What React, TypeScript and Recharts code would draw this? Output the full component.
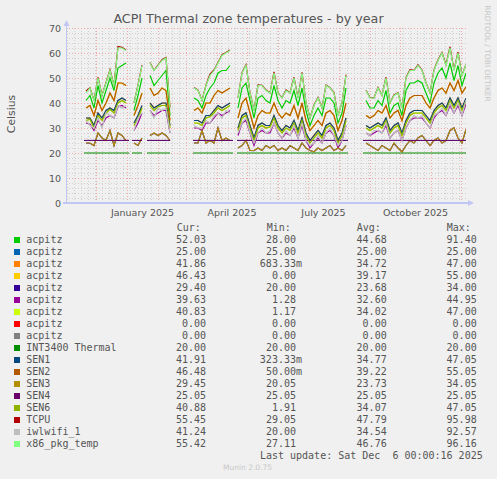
import { LineChart, Line, XAxis, YAxis, CartesianGrid } from 'recharts';

const _ = null;

// day index 0 = 1 Nov 2024, sampled every 4 days up to 6 Dec 2025
const days = Array.from({ length: 101 }, (_v, i) => i * 4);

const x86 = [_, _, _, _, _,
  44, 46, 41, 50, 43, 48, 53, 47, 62, 62, 61, _,
  40, 47, 55, _,
  56, 53, 55, 57, 58, 38, _, _, _, _, _,
  46, 45, 41, 47, 51, 53, 56, 59, 60, 61, _,
  42, 52, 55, 44, 37, 47, 47, 45, 44, 52, 44, 42, 45, 44, 50, 42, 52, 40, 34, 39, 42, 38, 47, 46, 44, 35, 40, 51,
  _, _, _, _,
  45, 42, 42, 46, 43, 50, 40, 43, 44, 38, 50, 53, 53, 55, 53, 48, 44, 53, 57, 60, 55, 62, 53, 60, 51, 55.42];

const tcpu = [_, _, _, _, _,
  44.8, 46.1, 41.1, 50.3, 43.1, 48.2, 53.3, 47.1, 62.6, 62.3, 61.2, _,
  40.1, 47.2, 55.2, _,
  56.2, 53.1, 55.2, 57.3, 58.2, 38.2, _, _, _, _, _,
  46.2, 45.1, 41.1, 47.2, 51.6, 53.2, 56.2, 59.3, 60.2, 61.2, _,
  42.1, 52.2, 55.3, 44.1, 37.1, 47.2, 47.1, 45.2, 44.1, 52.5, 44.1, 42.1, 45.2, 44.1, 50.3, 42.1, 52.3, 40.1, 34.1, 39.2, 42.2, 38.1, 47.2, 46.1, 44.2, 35.1, 40.1, 51.3,
  _, _, _, _,
  45.1, 42.2, 42.1, 46.2, 43.1, 50.3, 40.1, 43.2, 44.1, 38.1, 50.2, 53.3, 53.1, 55.3, 53.2, 48.1, 44.1, 53.2, 57.3, 60.2, 55.3, 62.5, 53.2, 60.4, 51.2, 55.45];

const acpitzGreen = [_, _, _, _, _,
  41, 43, 38, 47, 40, 45, 50, 45, 54, 55, 56, _,
  37, 43, 50, _,
  51, 47, 49, 51, 53, 35, _, _, _, _, _,
  42, 41, 38, 43, 46, 48, 52, 53, 53, 55, _,
  38, 46, 48, 41, 34, 42, 43, 41, 40, 47, 41, 38, 41, 40, 45, 39, 46, 37, 31, 35, 38, 35, 42, 42, 40, 32, 36, 46,
  _, _, _, _,
  41, 38, 38, 41, 39, 45, 36, 39, 40, 35, 45, 48, 48, 49, 48, 44, 40, 48, 52, 54, 50, 56, 49, 55, 47, 52.03];

const sen2 = [_, _, _, _, _,
  38, 39, 35, 41, 37, 40, 44, 41, 48, 48, 47, _,
  35, 39, 44, _,
  46, 43, 44, 46, 45, 33, _, _, _, _, _,
  37, 38, 36, 40, 40, 43, 45, 44, 45, 46, _,
  34, 40, 42, 36, 30, 35, 37, 36, 36, 40, 36, 34, 36, 35, 39, 34, 40, 33, 29, 31, 33, 31, 36, 37, 35, 29, 33, 40,
  _, _, _, _,
  35, 34, 35, 37, 36, 39, 34, 36, 37, 33, 39, 42, 43, 43, 43, 40, 38, 42, 45, 46, 44, 48, 45, 49, 44, 46.48];

const acpitzYellow = [_, _, _, _, _,
  38.1, 38.9, 35, 41, 37.1, 40, 43.9, 41, 48, 47.9, 47, _,
  35, 39.1, 44, _,
  46, 43, 43.9, 46, 45, 33.1, _, _, _, _, _,
  37, 38, 36.1, 40, 39.9, 43, 45, 44.1, 45, 46, _,
  34, 40, 41.9, 36, 30.1, 35, 37, 36, 35.9, 40, 36, 34.1, 36, 35, 39, 33.9, 40, 33, 29.1, 31, 33, 31, 36, 36.9, 35, 29, 33.1, 40,
  _, _, _, _,
  35, 34.1, 35, 37, 35.9, 39, 34, 36, 37.1, 33, 39, 42, 42.9, 43, 43, 40, 38.1, 42, 45, 46, 43.9, 48, 45, 49, 44, 46.43];

const sen1 = [_, _, _, _, _,
  34, 34, 31, 36, 34, 37, 38, 37, 41, 42, 41, _,
  32, 35, 39, _,
  40, 38, 39, 40, 40, 31, _, _, _, _, _,
  33, 33, 32, 35, 35, 37, 39, 38, 39, 40, _,
  30, 35, 36, 31, 26, 31, 32, 31, 31, 35, 31, 29, 31, 30, 33, 29, 34, 28, 25, 27, 29, 27, 31, 32, 30, 25, 28, 34,
  _, _, _, _,
  31, 30, 31, 32, 31, 34, 29, 31, 32, 28, 33, 36, 37, 37, 37, 35, 33, 37, 39, 40, 38, 42, 39, 42, 38, 41.91];

const acpitzOrange = [_, _, _, _, _,
  33.9, 34, 31.1, 36, 34, 36.9, 38, 37, 41, 41.9, 41, _,
  32, 35, 38.9, _,
  40, 38.1, 39, 40, 39.9, 31, _, _, _, _, _,
  33, 33.1, 32, 35, 35, 37, 38.9, 38, 39, 40, _,
  30, 35, 36.1, 31, 26, 31, 32, 30.9, 31, 35, 31, 29, 31.1, 30, 33, 29, 34, 28, 25, 27.1, 29, 27, 31, 32, 30, 25.1, 28, 34,
  _, _, _, _,
  31, 30, 31.1, 32, 31, 34, 29, 30.9, 32, 28, 33, 36, 37, 37.1, 37, 35, 33, 37, 38.9, 40, 38, 42, 39, 42, 38, 41.86];

const sen6 = [_, _, _, _, _,
  33, 33.5, 30, 35, 33, 36, 37.5, 36, 40, 41, 40, _,
  31, 34, 38, _,
  39, 37, 38.5, 39, 39, 30, _, _, _, _, _,
  32, 32, 31, 34, 34.5, 36, 38, 37, 38, 39, _,
  29, 34, 35, 30, 25, 30, 31, 30, 30.5, 34, 30, 28, 30, 29, 32, 28, 33, 27, 24, 26, 28, 26, 30, 31, 29, 24, 27, 33,
  _, _, _, _,
  30, 29, 30, 31, 30, 33, 28, 30, 31, 27, 32, 35, 36, 36, 36, 34, 32, 36, 38, 39, 37, 41, 38, 41, 37, 40.88];

const acpitzLime = [_, _, _, _, _,
  33, 33.4, 30.1, 35, 33, 35.9, 37.5, 36, 40, 40.9, 40, _,
  31, 34.1, 38, _,
  39, 37, 38.4, 39, 39.1, 30, _, _, _, _, _,
  32, 31.9, 31, 34, 34.5, 36.1, 38, 37, 37.9, 39, _,
  29, 34, 35, 30.1, 25, 30, 31, 30, 30.4, 34, 30, 28.1, 30, 29, 32, 28, 32.9, 27, 24, 26, 28, 26.1, 30, 31, 29, 24, 27, 32.9,
  _, _, _, _,
  30, 29, 30, 31, 29.9, 33, 28, 30, 31, 27, 32, 35, 36, 35.9, 36, 34, 32, 36, 38, 39, 37, 41, 38, 41, 37, 40.83];

const iwlwifi = [_, _, _, _, _,
  33, 31, 30, 34, 30, 36, 35, 34, 39, 38, 39, _,
  29, 34, 36, _,
  37, 34, 38, 37, 38, 28, _, _, _, _, _,
  31, 30, 30, 33, 32, 35, 36, 34, 37, 36, _,
  28, 32, 34, 28, 24, 28, 30, 28, 29, 32, 28, 26, 29, 27, 31, 26, 32, 25, 23, 24, 27, 24, 28, 30, 27, 23, 25, 31,
  _, _, _, _,
  28, 27, 29, 29, 28, 32, 26, 28, 29, 25, 30, 33, 35, 34, 35, 32, 30, 35, 36, 38, 35, 40, 36, 40, 35, 41.24];

const acpitzMagenta = [_, _, _, _, _,
  32, 31.5, 29, 33, 31, 34, 35, 34, 38.5, 39, 38, _,
  29, 32, 36, _,
  37, 35, 36, 37, 37, 28, _, _, _, _, _,
  30, 30, 29, 32, 32, 34, 36, 35, 36, 37, _,
  27, 32, 33, 28, 23, 28, 29, 28, 28, 32, 28, 26, 28, 27, 30, 26, 31, 25, 22, 24, 26, 24, 28, 29, 27, 22, 25, 31,
  _, _, _, _,
  28, 27, 28, 29, 28, 31, 26, 28, 29, 25, 30, 33, 34, 34, 34, 32, 30, 34, 36, 37, 35, 39, 36, 39, 35, 39.63];

const sen3 = [_, _, _, _, _,
  24, 24, 23, 28, 26, 25, 29, 23, 28, 27, 25, _,
  24, 23, 26, _,
  27, 28, 27, 28, 27, 25, _, _, _, _, _,
  24, 24, 29, 24, 25, 24, 30, 25, 26, 25, _,
  22, 23, 25, 21, 21, 22, 21, 23, 22, 23, 21, 22, 21, 23, 22, 21, 24, 22, 21, 20.5, 22, 21, 22, 23, 21, 22, 21, 23,
  _, _, _, _,
  24, 23, 22, 21, 23, 22, 21, 24, 22, 20.5, 23, 25, 24, 26, 27, 25, 23, 25, 26, 24, 25, 29, 30, 26, 24, 29.45];

const acpitzIndigo = [_, _, _, _, _,
  24, 23.9, 23, 28, 26, 25.1, 29, 23, 28, 27, 24.9, _,
  24, 23, 26, _,
  27, 27.9, 27, 28, 27, 25, _, _, _, _, _,
  24, 24, 28.9, 24, 25, 24, 30, 25, 25.9, 25, _,
  22, 23, 25, 21, 20.9, 22, 21, 23, 22, 23, 21, 22, 21, 22.9, 22, 21, 24, 22, 21, 20.5, 22, 21, 22, 23, 21, 22, 21, 23,
  _, _, _, _,
  24, 23, 22, 21, 23, 22, 21, 23.9, 22, 20.5, 23, 25, 24, 26, 27, 25, 23, 25, 26, 24, 25, 29, 30, 26, 24, 29.4];

// flat series only change at the data gaps
const flatDays = [18, 63, 64, 66, 76, 78, 81, 104, 110, 127, 167, 169, 171, 282, 290, 297, 400];
const acpitzBlue = [25, 25, _, 25, 25, _, 25, 25, _, 25, 25, _, 25, 25, _, 25, 25];
const acpitzRed = [0, 0, _, 0, 0, _, 0, 0, _, 0, 0, _, 0, 0, _, 0, 0];
const acpitzGray = [0, 0, _, 0, 0, _, 0, 0, _, 0, 0, _, 0, 0, _, 0, 0];
const int3400 = [20, 20, _, 20, 20, _, 20, 20, _, 20, 20, _, 20, 20, _, 20, 20];
const sen4 = [25.05, 25.05, _, 25.05, 25.05, _, 25.05, 25.05, _, 25.05, 25.05, _, 25.05, 25.05, _, 25.05, 25.05];

const yTicks = [0, 10, 20, 30, 40, 50, 60, 70];
const yMinor = [2, 4, 6, 8, 12, 14, 16, 18, 22, 24, 26, 28, 32, 34, 36, 38, 42, 44, 46, 48, 52, 54, 56, 58, 62, 64, 66, 68];
const monthStarts = [30, 61, 92, 120, 151, 181, 212, 242, 273, 304, 334, 365, 395];
const weekLines = Array.from({ length: 58 }, (_v, i) => 1 + i * 7).filter((d) => d < 400);
const labelDays = [76.5, 166, 257.5, 349.5];
const monthLabels = ['January 2025', 'April 2025', 'July 2025', 'October 2025'];

const legendNames = ['acpitz', 'acpitz', 'acpitz', 'acpitz', 'acpitz', 'acpitz', 'acpitz', 'acpitz', 'acpitz',
  'INT3400 Thermal', 'SEN1', 'SEN2', 'SEN3', 'SEN4', 'SEN6', 'TCPU', 'iwlwifi_1', 'x86_pkg_temp'];
const legendColors = ['#00CC00', '#0066B3', '#FF8000', '#FFCC00', '#330099', '#990099', '#CCFF00', '#FF0000', '#808080',
  '#008F00', '#00487D', '#B35A00', '#B38F00', '#6B006B', '#8FB300', '#B30000', '#BEBEBE', '#80FF80'];
const curVals = ['52.03', '25.00', '41.86', '46.43', '29.40', '39.63', '40.83', '0.00', '0.00', '20.00', '41.91', '46.48', '29.45', '25.05', '40.88', '55.45', '41.24', '55.42'];
const minVals = ['28.00', '25.00', '683.33m', '0.00', '20.00', '1.28', '1.17', '0.00', '0.00', '20.00', '323.33m', '50.00m', '20.05', '25.05', '1.91', '29.05', '20.00', '27.11'];
const avgVals = ['44.68', '25.00', '34.72', '39.17', '23.68', '32.60', '34.02', '0.00', '0.00', '20.00', '34.77', '39.22', '23.73', '25.05', '34.07', '47.79', '34.54', '46.76'];
const maxVals = ['91.40', '25.00', '47.00', '55.00', '34.00', '44.95', '47.00', '0.00', '0.00', '20.00', '47.05', '55.05', '34.05', '25.05', '47.05', '95.98', '92.57', '96.16'];

// draw order = munin order (last on top)
const seriesList: { key: string; values: (number | null)[]; flat?: boolean }[] = [
  { key: 'acpitzGreen', values: acpitzGreen },
  { key: 'acpitzBlue', values: acpitzBlue, flat: true },
  { key: 'acpitzOrange', values: acpitzOrange },
  { key: 'acpitzYellow', values: acpitzYellow },
  { key: 'acpitzIndigo', values: acpitzIndigo },
  { key: 'acpitzMagenta', values: acpitzMagenta },
  { key: 'acpitzLime', values: acpitzLime },
  { key: 'acpitzRed', values: acpitzRed, flat: true },
  { key: 'acpitzGray', values: acpitzGray, flat: true },
  { key: 'int3400', values: int3400, flat: true },
  { key: 'sen1', values: sen1 },
  { key: 'sen2', values: sen2 },
  { key: 'sen3', values: sen3 },
  { key: 'sen4', values: sen4, flat: true },
  { key: 'sen6', values: sen6 },
  { key: 'tcpu', values: tcpu },
  { key: 'iwlwifi', values: iwlwifi },
  { key: 'x86', values: x86 },
];

const rows = days.map((d, i) => {
  const r: Record<string, number | null> = { d };
  seriesList.filter((s) => !s.flat).forEach((s) => (r[s.key] = s.values[i]));
  return r;
});
const flatRows = flatDays.map((d, i) => {
  const r: Record<string, number | null> = { d };
  seriesList.filter((s) => s.flat).forEach((s) => (r[s.key] = s.values[i]));
  return r;
});

const TXT = '#555555';
const AXIS = '#c2c6f2';

const XTick = (props: any) => (
  <text x={props.x} y={216} textAnchor="middle" fontSize={9.5} fill={TXT} fontFamily="DejaVu Sans">
    {monthLabels[props.index]}
  </text>
);

const YTick = (props: any) => (
  <text x={61} y={props.y + 3.5} textAnchor="end" fontSize={9.5} fill={TXT} fontFamily="DejaVu Sans">
    {props.payload.value}
  </text>
);

const mono: React.CSSProperties = {
  position: 'absolute',
  fontFamily: '"DejaVu Sans Mono", monospace',
  fontSize: 10,
  lineHeight: '12px',
  color: TXT,
  whiteSpace: 'pre',
};

function Num(props: { text: string; right: number; top: number }) {
  const t = props.text.endsWith('m') ? props.text : props.text + ' ';
  return <div style={{ ...mono, top: props.top, right: 497 - props.right, textAlign: 'right' }}>{t}</div>;
}

export default function App() {
  return (
    <div style={{ position: 'fixed', left: 0, top: 0, width: 497, height: 479, background: '#f0f0f0', overflow: 'hidden' }}>
      <div style={{ position: 'absolute', left: 0, top: 0 }}>
        <LineChart width={497} height={225} data={rows} margin={{ top: 28, right: 31, left: 0, bottom: 0 }}>
          <CartesianGrid horizontalValues={yMinor} verticalValues={weekLines} stroke="#d0d0d0" strokeDasharray="1 2" shapeRendering="crispEdges" />
          <CartesianGrid horizontalValues={yTicks.slice(1)} verticalValues={monthStarts} stroke="#f0a8a8" strokeDasharray="1 2" shapeRendering="crispEdges" />
          <XAxis type="number" dataKey="d" domain={[0, 400]} ticks={labelDays} tick={<XTick />} axisLine={false} tickLine={false} height={22} allowDataOverflow interval={0} />
          <YAxis type="number" domain={[0, 70]} ticks={yTicks} width={66} tick={<YTick />} axisLine={false} tickLine={false} allowDataOverflow interval={0} />
          {seriesList.map((s, idx) => (
            <Line
              key={s.key}
              data={s.flat ? flatRows : undefined}
              dataKey={s.key}
              stroke={legendColors[idx]}
              strokeWidth={s.flat ? 1 : 1.2}
              dot={false}
              activeDot={false}
              isAnimationActive={false}
              type="linear"
            />
          ))}
        </LineChart>
      </div>

      <svg width={497} height={479} style={{ position: 'absolute', left: 0, top: 0, pointerEvents: 'none' }}>
        <line x1={66.5} y1={203.5} x2={66.5} y2={25} stroke={AXIS} />
        <polygon points="63.5,26 69.5,26 66.5,20" fill={AXIS} />
        <line x1={63} y1={203} x2={469} y2={203} stroke={AXIS} strokeWidth={2} />
        <polygon points="468,200 468,206 474,203" fill={AXIS} />
        <text x={248.5} y={22.5} textAnchor="middle" fontSize={12.7} fill={TXT} fontFamily="DejaVu Sans">
          ACPI Thermal zone temperatures - by year
        </text>
        <text transform="translate(14.5,114) rotate(-90)" textAnchor="middle" fontSize={10.8} fill={TXT} fontFamily="DejaVu Sans">
          Celsius
        </text>
        <text transform="translate(484.8,53.5) rotate(90)" textAnchor="middle" fontSize={7.5} fill="#c6c6c6" fontFamily="DejaVu Sans">
          RRDTOOL / TOBI OETIKER
        </text>
      </svg>

      <div style={{ ...mono, top: 222, left: 176.7 }}>Cur:</div>
      <div style={{ ...mono, top: 222, left: 266.7 }}>Min:</div>
      <div style={{ ...mono, top: 222, left: 356.7 }}>Avg:</div>
      <div style={{ ...mono, top: 222, left: 446.7 }}>Max:</div>
      {legendNames.map((name, i) => {
        const cy = 240 + 12 * i;
        return (
          <div key={i}>
            <div style={{ position: 'absolute', left: 14, top: cy - 3, width: 6, height: 6, background: legendColors[i] }} />
            <div style={{ ...mono, top: cy - 6, left: 26.3 }}>{name}</div>
            <Num text={curVals[i]} right={212} top={cy - 6} />
            <Num text={minVals[i]} right={302} top={cy - 6} />
            <Num text={avgVals[i]} right={392.7} top={cy - 6} />
            <Num text={maxVals[i]} right={482.7} top={cy - 6} />
          </div>
        );
      })}
      <div style={{ ...mono, top: 450, right: 497 - 482.7, textAlign: 'right' }}>Last update: Sat Dec  6 00:00:16 2025</div>
      <div style={{ position: 'absolute', top: 463, left: 0, width: 495, textAlign: 'center', fontFamily: '"DejaVu Sans"', fontSize: 7.5, color: '#c8c8c8' }}>
        Munin 2.0.75
      </div>
    </div>
  );
}
